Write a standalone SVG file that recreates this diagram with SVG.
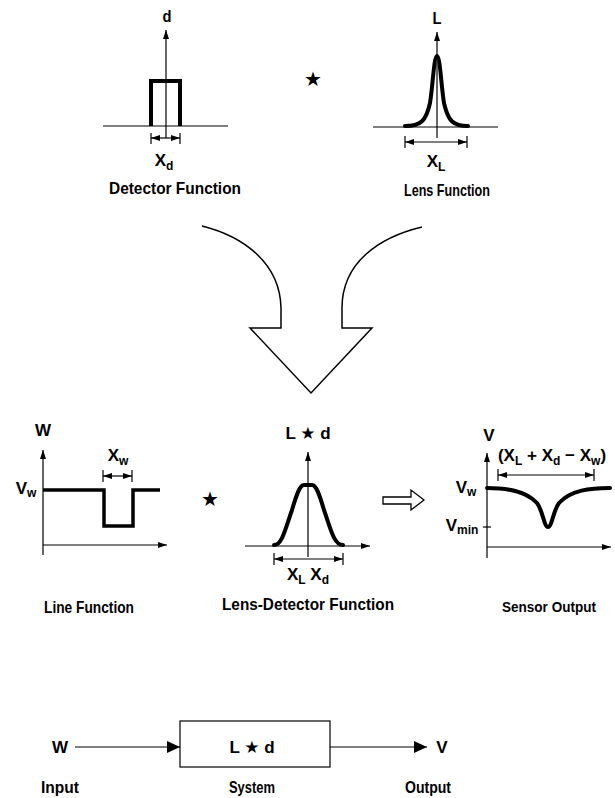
<svg xmlns="http://www.w3.org/2000/svg" width="615" height="798" viewBox="0 0 615 798">
<style>
.t{font-family:"Liberation Sans",Arial,sans-serif;font-weight:bold;font-size:17px;fill:#000;text-anchor:middle}
.s{font-size:12px}
.st{font-family:"DejaVu Sans",sans-serif;font-size:20px;fill:#000;text-anchor:middle}
.is{font-family:"DejaVu Sans",sans-serif;font-size:17px;font-weight:bold}
.ax{stroke:#000;stroke-width:1.2;fill:none}
.thick{stroke:#000;stroke-width:4;fill:none;stroke-linejoin:round;stroke-linecap:round}
.dim{stroke:#000;stroke-width:1.2;fill:none}
</style>
<defs>
<marker id="ah" markerWidth="10" markerHeight="8" refX="9" refY="4" orient="auto" markerUnits="userSpaceOnUse">
<path d="M0,1 L9,4 L0,7 Z" fill="#000"/>
</marker>
<marker id="dh" markerWidth="10" markerHeight="8" refX="9" refY="4" orient="auto-start-reverse" markerUnits="userSpaceOnUse">
<path d="M0,1 L9,4 L0,7 Z" fill="#000"/>
</marker>
<marker id="bh" markerWidth="14" markerHeight="14" refX="13" refY="7" orient="auto" markerUnits="userSpaceOnUse">
<path d="M0,1 L13,7 L0,13 Z" fill="#000"/>
</marker>
</defs>

<g id="detector-function">
<line class="ax" x1="103" y1="126" x2="228" y2="126"/>
<line class="ax" x1="166" y1="138" x2="166" y2="30" marker-end="url(#ah)"/>
<path class="thick" d="M151,126 V81 H180 V126" style="stroke-linecap:butt;stroke-linejoin:miter"/>
<line class="dim" x1="151" y1="138" x2="180" y2="138" marker-start="url(#dh)" marker-end="url(#dh)"/>
<line class="dim" x1="151" y1="133" x2="151" y2="144"/>
<line class="dim" x1="180" y1="133" x2="180" y2="144"/>
<text class="t" x="167" y="22" textLength="9" lengthAdjust="spacingAndGlyphs">d</text>
<text class="t" x="164" y="166">X<tspan class="s" dy="4">d</tspan></text>
<text class="t" x="175" y="194" textLength="132" lengthAdjust="spacingAndGlyphs">Detector Function</text>
</g>

<g id="convolve-star-top">
<text class="st" x="313" y="86">★</text>
</g>

<g id="lens-function">
<line class="ax" x1="373" y1="127" x2="498" y2="127"/>
<line class="ax" x1="437" y1="138" x2="437" y2="32" marker-end="url(#ah)"/>
<path class="thick" d="M405,126 C421,126 426,121 430,103 C433,84 434,56 437,56 C440,56 441,84 444,103 C448,121 453,126 468,126"/>
<line class="dim" x1="405" y1="142" x2="467" y2="142" marker-start="url(#dh)" marker-end="url(#dh)"/>
<line class="dim" x1="405" y1="136" x2="405" y2="148"/>
<line class="dim" x1="467" y1="136" x2="467" y2="148"/>
<text class="t" x="437" y="24" textLength="9" lengthAdjust="spacingAndGlyphs">L</text>
<text class="t" x="436" y="167">X<tspan class="s" dy="4">L</tspan></text>
<text class="t" x="447" y="196" textLength="86" lengthAdjust="spacingAndGlyphs">Lens Function</text>
</g>

<g id="big-arrow">
<path d="M202,226 C242,236 280,262 281,308 V328 H250 L311,393 L372,328 H342 V308 C342,262 380,237 422,227" fill="none" stroke="#000" stroke-width="1.5"/>
</g>

<g id="line-function">
<line class="ax" x1="43" y1="555" x2="43" y2="450" marker-end="url(#ah)"/>
<line class="ax" x1="43" y1="545" x2="167" y2="545" marker-end="url(#ah)"/>
<path class="thick" d="M43,490 H104 V526 H133 V490 H160" style="stroke-width:3.5;stroke-linecap:butt;stroke-linejoin:miter"/>
<line class="dim" x1="103" y1="476" x2="132" y2="476" marker-start="url(#dh)" marker-end="url(#dh)"/>
<line class="dim" x1="103" y1="470" x2="103" y2="482"/>
<line class="dim" x1="132" y1="470" x2="132" y2="482"/>
<text class="t" x="43" y="436">W</text>
<text class="t" x="26" y="494">V<tspan class="s" dy="3">w</tspan></text>
<text class="t" x="118" y="461">X<tspan class="s" dy="4">w</tspan></text>
<text class="t" x="89" y="613" textLength="90" lengthAdjust="spacingAndGlyphs">Line Function</text>
</g>

<g id="convolve-star-mid">
<text class="st" x="210" y="506">★</text>
</g>

<g id="lens-detector-function">
<line class="ax" x1="308" y1="557" x2="308" y2="452" marker-end="url(#ah)"/>
<line class="ax" x1="245" y1="546" x2="370" y2="546" marker-end="url(#ah)"/>
<path class="thick" d="M274,545 C282,545 285,530 292,510 C297,493 300,485 304,485 L312,485 C316,485 319,493 324,510 C331,530 334,545 343,545"/>
<line class="dim" x1="274" y1="559" x2="343" y2="559" marker-start="url(#dh)" marker-end="url(#dh)"/>
<line class="dim" x1="274" y1="553" x2="274" y2="565"/>
<line class="dim" x1="343" y1="553" x2="343" y2="565"/>
<text class="t" x="308" y="439">L <tspan class="is">★</tspan> d</text>
<text class="t" x="308" y="580">X<tspan class="s" dy="4">L</tspan><tspan dy="-4"> X</tspan><tspan class="s" dy="4">d</tspan></text>
<text class="t" x="308" y="610" textLength="172" lengthAdjust="spacingAndGlyphs">Lens-Detector Function</text>
</g>

<g id="implies-arrow">
<polygon points="383,497 411,497 411,490 424,500 411,510 411,504 383,504" fill="#fff" stroke="#000" stroke-width="1.3"/>
</g>

<g id="sensor-output">
<line class="ax" x1="487" y1="558" x2="487" y2="453" marker-end="url(#ah)"/>
<line class="ax" x1="487" y1="547" x2="611" y2="547" marker-end="url(#ah)"/>
<line class="ax" x1="483" y1="527" x2="491" y2="527"/>
<path class="thick" d="M487,488 C505,488 525,490 537,503 C543,511 544,527 548,527 C552,527 553,511 559,503 C571,490 590,488 610,488"/>
<line class="dim" x1="498" y1="475" x2="594" y2="475" marker-start="url(#dh)" marker-end="url(#dh)"/>
<line class="dim" x1="498" y1="469" x2="498" y2="481"/>
<line class="dim" x1="594" y1="469" x2="594" y2="481"/>
<text class="t" x="489" y="441">V</text>
<text class="t" x="552" y="461">(X<tspan class="s" dy="4">L</tspan><tspan dy="-4"> + X</tspan><tspan class="s" dy="4">d</tspan><tspan dy="-4"> − X</tspan><tspan class="s" dy="4">w</tspan><tspan dy="-4">)</tspan></text>
<text class="t" x="466" y="493">V<tspan class="s" dy="3">w</tspan></text>
<text class="t" x="462" y="531">V<tspan class="s" dy="3">min</tspan></text>
<text class="t" x="549" y="612" style="font-size:15px" textLength="94" lengthAdjust="spacingAndGlyphs">Sensor Output</text>
</g>

<g id="input">
<text class="t" x="60" y="753">W</text>
<text class="t" x="60" y="793" textLength="38" lengthAdjust="spacingAndGlyphs">Input</text>
</g>

<g id="system">
<rect x="180" y="721" width="150" height="46" fill="#fff" stroke="#000" stroke-width="1.2"/>
<text class="t" x="252" y="753">L <tspan class="is">★</tspan> d</text>
<text class="t" x="252" y="793" textLength="46" lengthAdjust="spacingAndGlyphs">System</text>
</g>

<g id="output">
<text class="t" x="442" y="753">V</text>
<text class="t" x="428" y="793" textLength="46" lengthAdjust="spacingAndGlyphs">Output</text>
</g>

<g id="connectors">
<line x1="75" y1="747" x2="180" y2="747" stroke="#000" stroke-width="1.2" marker-end="url(#bh)"/>
<line x1="330" y1="747" x2="427" y2="747" stroke="#000" stroke-width="1.2" marker-end="url(#bh)"/>
</g>
</svg>
